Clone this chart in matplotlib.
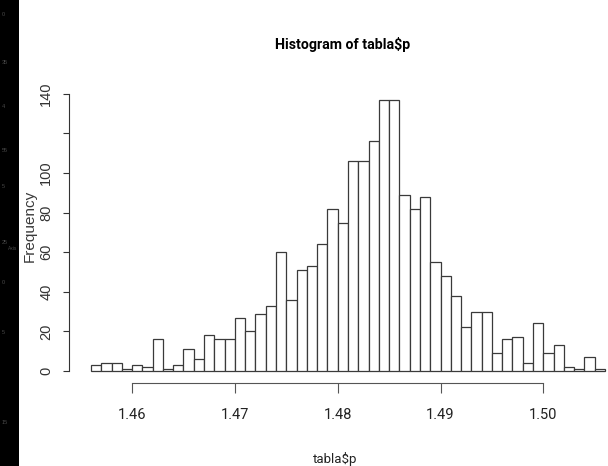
import numpy as np
import matplotlib.pyplot as plt
from matplotlib.patches import Rectangle

# histogram counts, bins of width 0.001 starting at 1.456
bin_start = 1.456
bin_width = 0.001
counts = [3, 4, 4, 1, 3, 2, 16, 1, 3, 11,
          6, 18, 16, 16, 27, 20, 29, 33, 60, 36,
          51, 53, 64, 82, 75, 106, 106, 116, 137, 137,
          89, 82, 88, 55, 48, 38, 22, 30, 30, 9,
          16, 17, 4, 24, 9, 13, 2, 1, 7, 1]
x_ticks = [1.46, 1.47, 1.48, 1.49, 1.50]
x_tick_labels = ['1.46', '1.47', '1.48', '1.49', '1.50']
y_ticks = [0, 20, 40, 60, 80, 100, 120, 140]
y_tick_labels = ['0', '20', '40', '60', '80', '100', '', '140']

narrow = ['Roboto', 'Liberation Sans', 'DejaVu Sans']
plt.rcParams['font.family'] = ['Liberation Sans', 'DejaVu Sans']

fig = plt.figure(figsize=(6.08, 4.66), dpi=100)
ax = fig.add_axes([85 / 608, 83 / 466, 523 / 608, 303 / 466])

lefts = bin_start + bin_width * np.arange(len(counts))
ax.bar(lefts, counts, width=bin_width, align='edge', color='white',
       edgecolor='#3a3a3a', linewidth=0.9)

ax.set_xlim(1.45542, 1.50629)
ax.set_ylim(-6.06, 147.0)

for side in ['top', 'right']:
    ax.spines[side].set_visible(False)
ax.spines['bottom'].set_bounds(1.46, 1.50)
ax.spines['left'].set_bounds(0, 140)
ax.spines['left'].set_position(('outward', 11.5))
ax.spines['bottom'].set_color('#555555')
ax.spines['left'].set_color('#333333')

ax.set_xticks(x_ticks)
ax.set_xticklabels(x_tick_labels, family=narrow, fontsize=10.5, color='#222222')
ax.tick_params(axis='x', length=7.2, pad=11, color='#555555')
ax.set_yticks(y_ticks)
ax.set_yticklabels(y_tick_labels, rotation=90, va='center', fontsize=10.5,
                   color='#333333')
ax.tick_params(axis='y', length=4.3, pad=7, color='#333333')

fig.text(343 / 608, 1 - 44 / 466, 'Histogram of tabla$p', family=narrow,
         fontweight='bold', fontsize=10.2, ha='center', va='center')
fig.text(335 / 608, 1 - 459 / 466, 'tabla$p', family=narrow, fontsize=9.5,
         ha='center', va='center', color='#222222')
fig.text(30 / 608, 1 - 226 / 466, 'Frequency', rotation=90, fontsize=11,
         ha='center', va='center', color='#3a3a3a')

# dark strip on the left edge with faint leftover labels
fig.patches.append(Rectangle((0, 0), 18.5 / 608, 1, transform=fig.transFigure,
                             facecolor='black', edgecolor='none'))
strip_marks = [(15, '0'), (62, '35'), (107, '4'), (150, '55'), (187, '5'),
               (243, '25'), (283, '0'), (332, '5'), (423, '15')]
for ypx, txt in strip_marks:
    fig.text(2 / 608, 1 - ypx / 466, txt, fontsize=4, color='#4a4a4a',
             ha='left', va='center')
fig.text(8 / 608, 1 - 248 / 466, 'Axis', fontsize=3.5, color='#4a4a4a',
         ha='left', va='center')

fig.savefig('out.png', dpi=100)
